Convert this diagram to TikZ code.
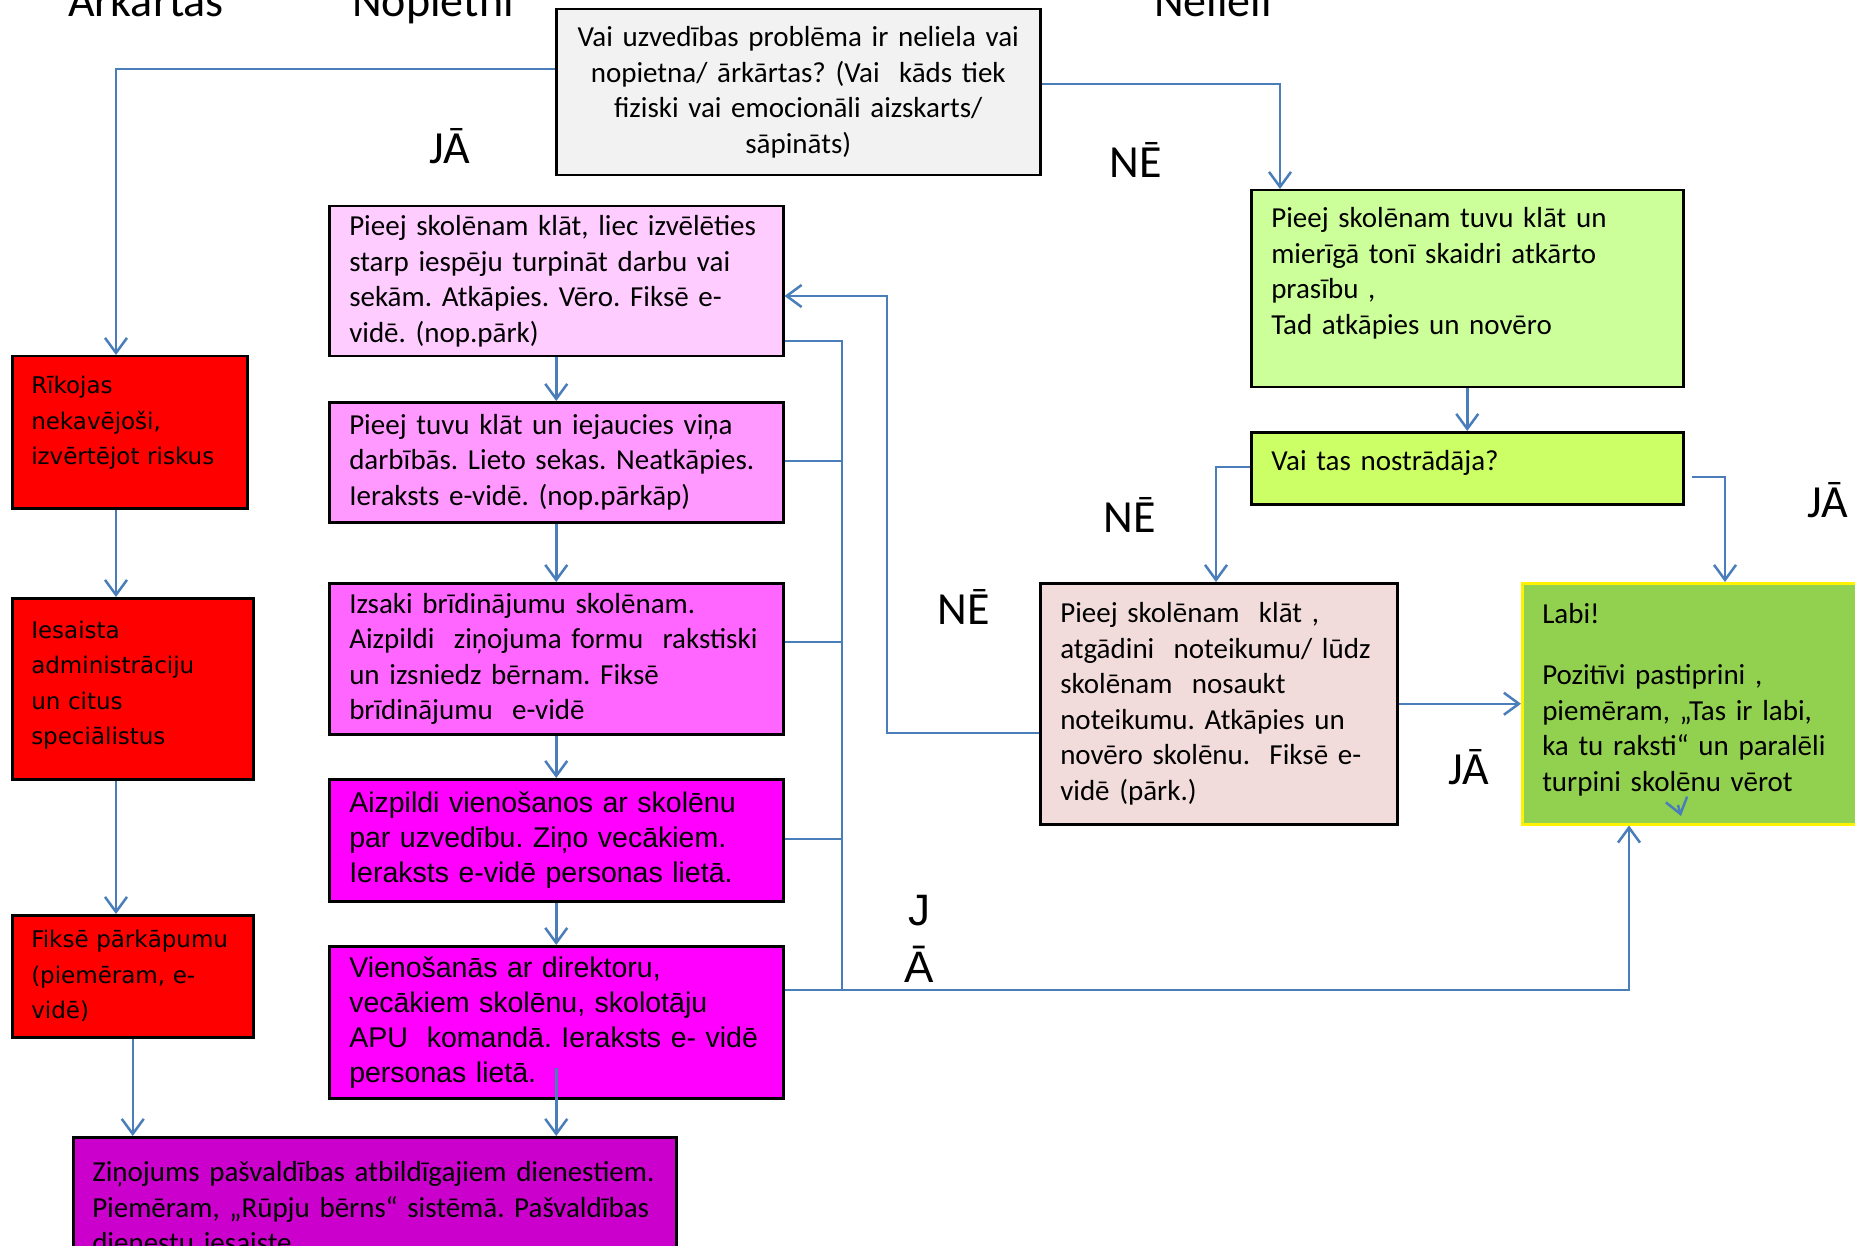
\documentclass[tikz,border=0pt]{standalone}
\usepackage{fontspec}
\setmainfont{Carlito}
\newfontfamily\verdanafont{DejaVu Sans}
\newfontfamily\arialfont{Liberation Sans}
\frenchspacing
\usepackage{tikz}
\usetikzlibrary{arrows.meta}
\definecolor{linkblue}{HTML}{4A7EBB}
\definecolor{qgrey}{HTML}{F2F2F2}
\definecolor{lime1}{HTML}{CCFF99}
\definecolor{lime2}{HTML}{CCFF66}
\definecolor{rosegrey}{HTML}{F2DCDB}
\definecolor{okgreen}{HTML}{92D050}
\definecolor{pink1}{HTML}{FFCCFF}
\definecolor{pink2}{HTML}{FF99FF}
\definecolor{pink3}{HTML}{FF66FF}
\definecolor{pink4}{HTML}{FF00FF}
\definecolor{plum}{HTML}{CC00CC}
\definecolor{alarm}{HTML}{FF0000}
\tikzset{box/.style={draw=black, line width=2.5pt, rectangle, anchor=north west,
           inner xsep=20pt, inner ysep=0pt, align=left,
           font=\fontsize{29}{35.5}\selectfont},
         redbox/.style={box, fill=alarm, inner xsep=19pt,
           font=\verdanafont\fontsize{23}{35.5}\selectfont},
         arialbox/.style={box, fill=pink4, font=\arialfont\fontsize{28.5}{35}\selectfont},
         link/.style={draw=linkblue, line width=2.5pt},
         arr/.style={link, -{Straight Barb[length=15pt,width=22pt]}},
         big/.style={font=\fontsize{46}{50}\selectfont},
         bigarial/.style={font=\arialfont\fontsize{44}{48}\selectfont}}

\begin{document}
\begin{tikzpicture}[x=1pt,y=-1pt]
\useasboundingbox (0,0) rectangle (1855,1246);
\fill[white] (0,0) rectangle (1855,1246);
\clip (0,0) rectangle (1855,1246);

\node[big,anchor=base] (hA) at (146,17) {Ārkārtas};
\node[big,anchor=base] (hN) at (433,17) {Nopietni};
\node[big,anchor=base] (hL) at (1213,17) {Nelieli};

\node[box,fill=qgrey,align=center,text width=444pt,minimum height=166pt] (Q) at (555,8)
  {Vai uzvedības problēma ir neliela vai\\nopietna/ ārkārtas? (Vai\ \ kāds tiek\\fiziski vai emocionāli aizskarts/\\sāpināts)};

\node[box,fill=lime1,text width=392pt,minimum height=197pt] (G1) at (1250,189)
  {Pieej skolēnam tuvu klāt un\\mierīgā tonī skaidri atkārto\\prasību ,\\Tad atkāpies un novēro\\\mbox{}};
\node[box,fill=lime2,text width=392pt,minimum height=72pt] (G2) at (1250,431) {Vai tas nostrādāja?\\[-20pt]\mbox{}};
\node[box,fill=rosegrey,text width=317pt,minimum height=241pt] (P) at (1039,582)
  {Pieej skolēnam\ \ klāt ,\\atgādini\ \ noteikumu/ lūdz\\skolēnam\ \ nosaukt\\noteikumu. Atkāpies un\\novēro skolēnu.\ \ Fiksē e-\\vidē (pārk.)};
\node[box,draw=yellow,fill=okgreen,text width=305pt,minimum height=241pt] (L) at (1521,582)
  {Labi!\\[26pt]Pozitīvi pastiprini ,\\piemēram, „Tas ir labi,\\ka tu raksti“ un paralēli\\turpini skolēnu vērot\\[-22pt]\mbox{}};

\node[box,fill=pink1,text width=414pt,minimum height=150pt] (N1) at (328,205)
  {Pieej skolēnam klāt, liec izvēlēties\\starp iespēju turpināt darbu vai\\sekām. Atkāpies. Vēro. Fiksē e-\\vidē. (nop.pārk)};
\node[box,fill=pink2,text width=414pt,minimum height=120pt] (N2) at (328,401)
  {Pieej tuvu klāt un iejaucies viņa\\darbībās. Lieto sekas. Neatkāpies.\\Ieraksts e-vidē. (nop.pārkāp)};
\node[box,fill=pink3,text width=414pt,minimum height=151pt] (N3) at (328,582)
  {Izsaki brīdinājumu skolēnam.\\Aizpildi\ \ ziņojuma formu\ \ rakstiski\\un izsniedz bērnam. Fiksē\\brīdinājumu\ \ e-vidē};
\node[arialbox,text width=414pt,minimum height=122pt] (N4) at (328,778)
  {Aizpildi vienošanos ar skolēnu\\par uzvedību. Ziņo vecākiem.\\Ieraksts e-vidē personas lietā.};
\node[arialbox,text width=414pt,minimum height=152pt] (N5) at (328,945)
  {Vienošanās ar direktoru,\\vecākiem skolēnu, skolotāju\\\mbox{APU\ \ komandā. Ieraksts e- vidē}\\personas lietā.};

\node[redbox,text width=197pt,minimum height=152pt] (R1) at (11,355) {Rīkojas\\nekavējoši,\\izvērtējot riskus\\[-12pt]\mbox{}};
\node[redbox,text width=203pt,minimum height=181pt] (R2) at (11,597) {Iesaista\\administrāciju\\un citus\\speciālistus\\[-24pt]\mbox{}};
\node[redbox,text width=203pt,minimum height=122pt] (R3) at (11,914) {Fiksē pārkāpumu\\(piemēram, e-\\vidē)};

\node[box,fill=plum,text width=565pt,inner xsep=19pt,inner ysep=6pt,minimum height=140pt] (B) at (72,1136)
  {Ziņojums pašvaldības atbildīgajiem dienestiem.\\Piemēram, „Rūpju bērns“ sistēmā. Pašvaldības\\dienestu iesaiste};

\node[big] (yes1) at (450,146) {JĀ};
\node[big] (no1) at (1136,160) {NĒ};
\node[big] (no2) at (1130,515) {NĒ};
\node[big] (yes2) at (1828,500) {JĀ};
\node[big] (no3) at (964,607) {NĒ};
\node[big] (yes3) at (1469,767) {JĀ};
\node[bigarial] (yes4a) at (919,911) {J};
\node[bigarial] (yes4b) at (919,964) {Ā};

\coordinate (c1) at (116,69);
\coordinate (c2) at (1280,84);
\coordinate (c3) at (1216,467);
\coordinate (c4) at (1725,477);
\coordinate (c5) at (887,733);
\coordinate (c6) at (887,296);
\coordinate (b1) at (842,341);
\coordinate (b5) at (842,990);
\coordinate (c7) at (1629,990);
\coordinate (s1) at (1678,805);
\coordinate (s2) at (1681,816);

\draw[arr] (Q.west |- c1) -- (c1) -- (c1 |- R1.north);
\draw[arr] (Q.east |- c2) -- (c2) -- (c2 |- G1.north);
\draw[arr] (G1) -- (G2);
\draw[arr] (G2.west |- c3) -- (c3) -- (c3 |- P.north);
\draw[arr] ([xshift=7pt]G2.east |- c4) -- (c4) -- (c4 |- L.north);
\draw[arr] (P.east) -- (P.east -| L.west);
\draw[arr] (P.west |- c5) -- (c5) -- (c6) -- (c6 -| N1.east);
\foreach \a/\b in {N1/N2,N2/N3,N3/N4,N4/N5} \draw[arr] (\a) -- (\b);
\draw[link] (N1.east |- b1) -- (b1) -- (b5);
\foreach \n/\y in {N2/461,N3/642,N4/839} \draw[link] (\n.east |- 0,\y) -- (842,\y);
\draw[arr] (N5.east |- b5) -- (b5) -- (c7) -- (c7 |- L.south);
\draw[arr] (R1.south -| c1) -- (R2.north -| c1);
\draw[arr] (R2.south -| c1) -- (R3.north -| c1);
\draw[arr] (R3.south) -- (R3.south |- B.north);
\draw[arr] ([yshift=-46pt]N5.center) -- (N5.center |- B.north);
\draw[arr] (s1) -- (s2);
\end{tikzpicture}
\end{document}
